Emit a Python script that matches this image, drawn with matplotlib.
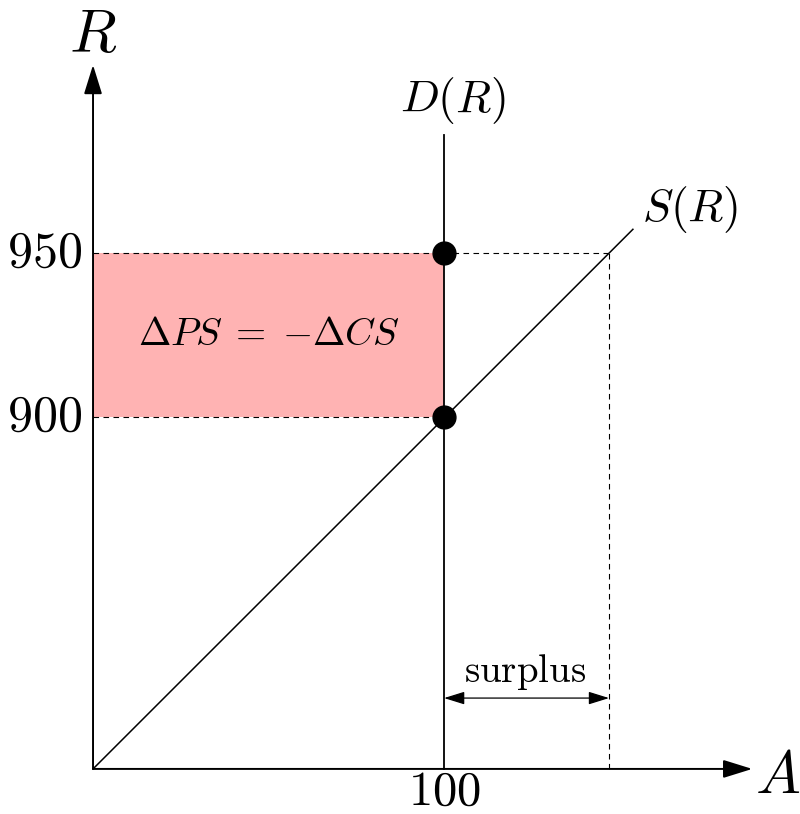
import numpy as np
import matplotlib
matplotlib.use("Agg")
import matplotlib.pyplot as plt
from matplotlib.patches import Rectangle

plt.rcParams['mathtext.fontset'] = 'cm'
plt.rcParams['font.family'] = 'serif'

# market data (schematic)
Q_DEMAND = 100            # quantity demanded, fixed
R_LOW = 900               # initial rate
R_HIGH = 950              # raised rate
A_SURPLUS = 147.0         # quantity supplied at R_HIGH
A_supply = [0, 153.8]     # supply curve ends
R_supply = [792.7, 957.2]
R_origin = 792.7
R_demand_top = 986
A_axis_end = 187.8
R_axis_end = 1007.3
R_arrow = 814.3

BLACK = 'black'
PINK = '#ffb3b3'

fig = plt.figure(figsize=(8, 8.14), dpi=100)
ax = fig.add_axes([0, 0, 1, 1])
ax.set_xlim(-26.5, 201.4)
ax.set_ylim(778.96, 1027.1)
ax.axis('off')

# shaded area
ax.add_patch(Rectangle((0, R_LOW), Q_DEMAND, R_HIGH - R_LOW,
                       facecolor=PINK, edgecolor='none', zorder=1))

# dashed guides
dash = (0, (5, 4))
ax.plot([0, A_SURPLUS], [R_HIGH, R_HIGH], color=BLACK, lw=0.8, ls=dash, zorder=2)
ax.plot([0, Q_DEMAND], [R_LOW, R_LOW], color=BLACK, lw=0.8, ls=dash, zorder=2)
ax.plot([A_SURPLUS, A_SURPLUS], [R_origin, R_HIGH], color=BLACK, lw=0.8, ls=dash, zorder=2)

# axes arrows
axis_arrow = dict(arrowstyle='-|>,head_length=0.9,head_width=0.28',
                  color=BLACK, lw=1.4, shrinkA=0, shrinkB=0, mutation_scale=20)
ax.annotate('', xy=(A_axis_end, R_origin), xytext=(0, R_origin), arrowprops=axis_arrow)
ax.annotate('', xy=(0, R_axis_end), xytext=(0, R_origin), arrowprops=axis_arrow)

# demand and supply
ax.plot([Q_DEMAND, Q_DEMAND], [R_origin, R_demand_top], color=BLACK, lw=1.3, zorder=3)
ax.plot(A_supply, R_supply, color=BLACK, lw=1.1, zorder=3)

# points
ax.scatter([Q_DEMAND, Q_DEMAND], [R_LOW, R_HIGH], s=270, color=BLACK, zorder=4)

# surplus arrow
ax.annotate('', xy=(A_SURPLUS, R_arrow), xytext=(Q_DEMAND, R_arrow),
            arrowprops=dict(arrowstyle='<|-|>,head_length=0.9,head_width=0.28',
                            color=BLACK, lw=0.9, shrinkA=0, shrinkB=0,
                            mutation_scale=14))
ax.text(123.1, 822.3, r'$\mathrm{surplus}$', fontsize=28, ha='center', va='center')

# labels
ax.text(0, 1016.5, r'$R$', fontsize=44, ha='center', va='center')
ax.text(195.0, 790.4, r'$A$', fontsize=43, ha='center', va='center')
ax.text(102.6, 996.6, r'$D(R)$', fontsize=33, ha='center', va='center')
ax.text(170.1, 963.1, r'$S(R)$', fontsize=33, ha='center', va='center')
ax.text(-3.1, R_HIGH, r'$%d$' % R_HIGH, fontsize=36, ha='right', va='center')
ax.text(-3.1, R_LOW, r'$%d$' % R_LOW, fontsize=36, ha='right', va='center')
ax.text(Q_DEMAND, 786.0, r'$%d$' % Q_DEMAND, fontsize=35, ha='center', va='center')
ax.text(50, 925, r'$\Delta PS\;=\;{-}\Delta CS$', fontsize=28, ha='center', va='center')

fig.savefig('out.png', dpi=100)
